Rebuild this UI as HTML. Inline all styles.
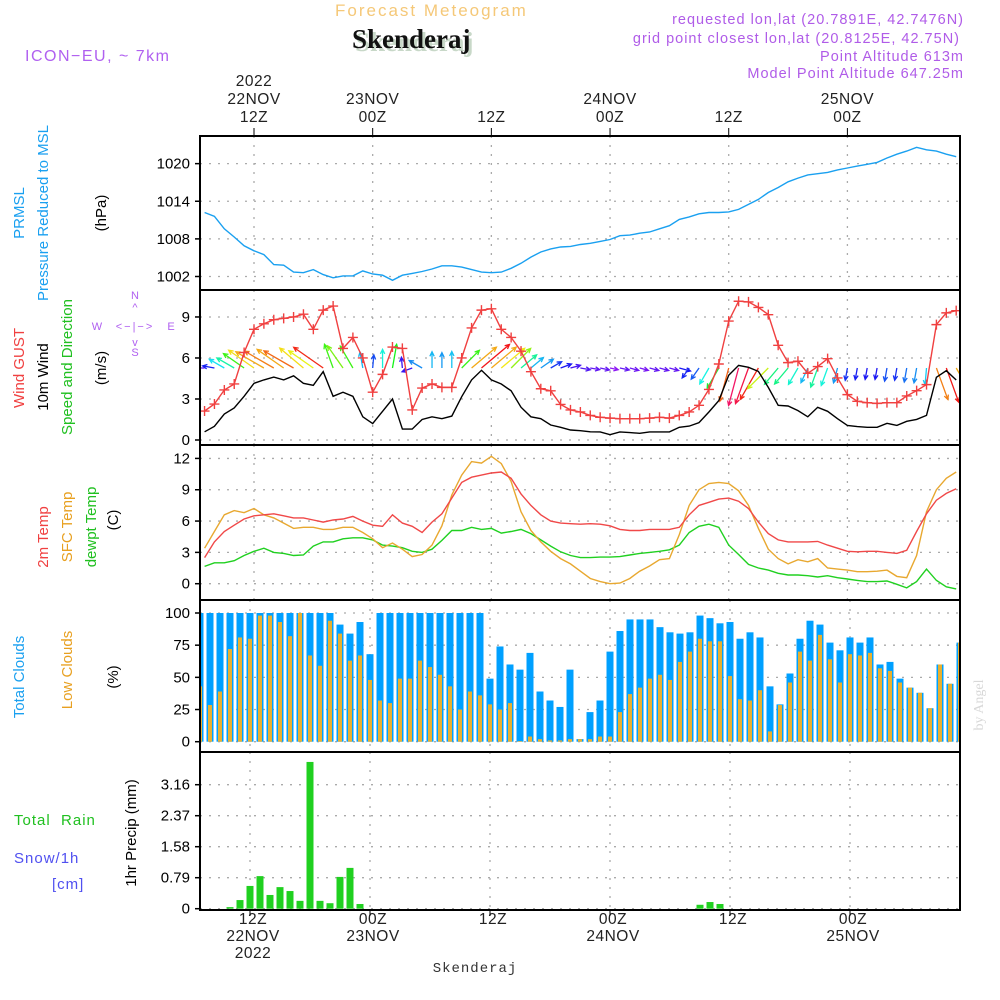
<!DOCTYPE html>
<html><head><meta charset="utf-8"><style>
html,body{margin:0;padding:0;background:#fff;width:1000px;height:1000px;overflow:hidden}
svg{display:block}
</style></head><body>
<svg id="chart" width="1000" height="1000" viewBox="0 0 1000 1000" xmlns="http://www.w3.org/2000/svg" font-family="Liberation Sans, sans-serif">
<g>
<text x="335" y="16" font-size="17" letter-spacing="2" fill="#f5c878">Forecast Meteogram</text>
<text x="355" y="51" style="font-family:'Liberation Serif',serif" font-weight="bold" font-size="27" fill="#c8d8c8">Skenderaj</text>
<text x="352" y="48" style="font-family:'Liberation Serif',serif" font-weight="bold" font-size="27" fill="#111">Skenderaj</text>
<text x="25" y="61" font-size="16" letter-spacing="1.5" fill="#b060f0">ICON−EU, ~ 7km</text>
<g font-size="14.5" letter-spacing="1" fill="#b05ce8" text-anchor="end">
<text x="964" y="24">requested lon,lat (20.7891E, 42.7476N)</text>
<text x="960" y="43">grid point closest lon,lat (20.8125E, 42.75N)</text>
<text x="964" y="61">Point Altitude 613m</text>
<text x="964" y="78">Model Point Altitude 647.25m</text>
</g>
</g>
<g id="plots"></g>
<g font-size="15">
<text transform="translate(24,213) rotate(-90)" text-anchor="middle" fill="#1aa0f0">PRMSL</text>
<text transform="translate(48,213) rotate(-90)" text-anchor="middle" fill="#1aa0f0">Pressure Reduced to MSL</text>
<text transform="translate(106,213) rotate(-90)" text-anchor="middle" fill="#000">(hPa)</text>
<text transform="translate(24,368) rotate(-90)" text-anchor="middle" fill="#f04040">Wind GUST</text>
<text transform="translate(48,377) rotate(-90)" text-anchor="middle" fill="#000">10m Wind</text>
<text transform="translate(72,367) rotate(-90)" text-anchor="middle" fill="#20c020">Speed and Direction</text>
<text transform="translate(106,368) rotate(-90)" text-anchor="middle" fill="#000">(m/s)</text>
<text transform="translate(48,537) rotate(-90)" text-anchor="middle" fill="#f04040">2m Temp</text>
<text transform="translate(72,527) rotate(-90)" text-anchor="middle" fill="#e8a020">SFC Temp</text>
<text transform="translate(96,527) rotate(-90)" text-anchor="middle" fill="#20c020">dewpt Temp</text>
<text transform="translate(118,520) rotate(-90)" text-anchor="middle" fill="#000">(C)</text>
<text transform="translate(24,677) rotate(-90)" text-anchor="middle" fill="#1aa0f0">Total Clouds</text>
<text transform="translate(72,670) rotate(-90)" text-anchor="middle" fill="#e8a020">Low Clouds</text>
<text transform="translate(118,677) rotate(-90)" text-anchor="middle" fill="#000">(%)</text>
<text transform="translate(136,833) rotate(-90)" text-anchor="middle" fill="#000">1hr Precip (mm)</text>
<text x="14" y="825" fill="#20c020" letter-spacing="1" xml:space="preserve">Total  Rain</text>
<text x="14" y="863" fill="#5050f0" letter-spacing="1">Snow/1h</text>
<text x="52" y="889" fill="#5050f0" letter-spacing="1">[cm]</text>
</g>
<g fill="#b060f0" font-size="11">
<text x="135" y="299" text-anchor="middle">N</text>
<text x="135" y="356" text-anchor="middle">S</text>
<text x="97" y="330" text-anchor="middle">W</text>
<text x="171" y="330" text-anchor="middle">E</text>
<text x="135" y="330" text-anchor="middle" letter-spacing="2">&lt;−|−&gt;</text>
<text x="135" y="311" text-anchor="middle">^</text>
<text x="135" y="346" text-anchor="middle">v</text>
</g>
<text x="475" y="972" text-anchor="middle" style="font-family:'Liberation Mono',monospace" font-size="14" letter-spacing="1" fill="#333">Skenderaj</text>
<text transform="translate(983,705) rotate(-90)" text-anchor="middle" style="font-family:'Liberation Serif',serif" font-size="14" fill="#d8d8d8">by Angel</text>
</svg>
<script>
// ---- data (hourly, h = hours since 00Z 22NOV) ----
const hours = [];
for (let h = 7; h <= 83; h++) hours.push(h);
const pressure = [1012.2,1011.6,1009.6,1008.3,1006.9,1006.1,1005.5,1003.9,1003.8,1002.7,
1002.6,1003.1,1002.3,1001.8,1002.1,1002.1,1002.9,1002.4,1002.2,1001.4,
1002.2,1002.5,1002.8,1003.2,1003.7,1003.7,1003.5,1003.1,1002.7,1002.6,
1002.7,1003.3,1004.1,1005.1,1005.9,1006.4,1006.7,1006.8,1007.1,1007.3,
1007.6,1007.9,1008.5,1008.6,1008.9,1009.1,1009.6,1010.1,1011.1,1011.5,
1012.0,1012.2,1012.2,1012.3,1012.7,1013.5,1014.3,1015.4,1016.2,1017.1,
1017.7,1018.2,1018.4,1018.6,1019.0,1019.3,1019.6,1019.9,1020.2,1020.9,
1021.5,1022.0,1022.6,1022.2,1022.0,1021.5,1021.1];
const gust = [2.12,2.63,3.66,4.1,6.4,8.1,8.5,8.8,8.9,9.0,
9.2,8.1,9.5,9.8,6.7,7.5,6.0,3.5,4.8,6.8,
6.7,2.2,3.8,4.1,3.85,3.85,6.0,8.2,9.5,9.6,
8.1,7.5,6.5,5.0,3.75,3.6,2.6,2.2,2.05,1.8,
1.66,1.6,1.56,1.56,1.56,1.6,1.66,1.6,1.8,2.05,
2.54,3.7,5.56,8.7,10.15,10.1,9.7,9.17,6.93,5.66,
5.76,4.88,5.37,5.95,4.54,3.32,2.83,2.73,2.68,2.73,
2.73,3.22,3.61,4.05,8.44,9.3,9.46];
const wind10 = [0.6,1.0,1.9,2.34,3.2,4.15,4.4,4.6,4.4,4.7,
4.15,4.0,5.0,3.2,3.5,3.2,1.7,1.2,2.1,3.0,
0.8,0.8,1.5,1.7,1.56,1.75,3.17,4.4,5.1,4.4,
4.1,3.6,2.4,1.7,1.56,1.1,0.93,0.73,0.68,0.6,
0.59,0.39,0.59,0.54,0.49,0.59,0.59,0.59,0.93,1.02,
1.27,2.05,2.88,4.73,5.46,5.32,5.02,3.85,2.54,2.49,
2.15,1.7,2.39,2.1,1.56,1.07,0.98,0.93,0.93,1.22,
1.07,1.37,1.51,1.8,4.59,5.07,4.39];
const windDir = [180,170,150,150,145,145,150,150,145,150,
140,145,145,110,125,120,100,85,90,80,
95,200,150,90,90,90,45,40,40,40,
40,45,40,40,35,30,20,15,-10,-10,
-12,-12,-12,-15,-15,-15,-15,-15,-15,235,
235,240,240,255,255,250,240,225,230,230,
240,245,250,250,255,260,260,260,260,260,
260,260,260,265,290,290,300];
const temp2m = [2.5,4.0,5.0,5.6,6.2,6.5,6.6,6.7,6.5,6.3,
6.3,6.1,5.9,6.1,6.2,6.45,6.0,5.6,5.5,6.6,
5.8,5.5,4.9,5.9,6.7,8.2,9.7,10.2,10.4,10.6,
10.7,10.1,8.6,7.5,6.6,6.0,5.8,5.75,5.7,5.75,
5.7,5.55,5.2,5.1,5.1,5.2,5.2,5.2,5.4,6.6,
7.5,7.8,8.1,8.2,7.9,7.2,5.9,4.8,4.2,4.0,
4.0,4.0,4.05,3.7,3.4,3.1,3.06,3.1,3.1,3.0,
2.9,3.2,5.0,6.7,8.0,8.65,9.1];
const tempSfc = [3.4,5.0,6.6,7.0,6.8,7.2,6.6,6.3,5.8,5.3,
5.4,5.4,5.2,5.2,5.4,5.4,4.9,4.3,3.45,3.9,
3.3,2.6,2.8,3.7,5.55,8.5,10.4,11.7,11.55,12.2,
11.5,9.8,6.9,5.1,4.0,3.1,2.4,1.9,1.2,0.5,
0.2,0.0,0.06,0.5,1.2,1.7,2.3,2.4,4.7,7.5,
9.0,9.6,9.7,9.6,8.9,7.5,5.3,3.3,2.4,1.9,
2.3,2.1,2.4,1.5,1.4,1.3,1.15,1.15,1.2,1.3,
0.7,0.57,2.7,6.9,9.0,10.1,10.7];
const dewpt = [1.66,2.0,2.0,2.2,2.7,3.1,3.4,3.0,2.9,2.7,
2.75,3.6,4.0,4.0,4.3,4.4,4.4,4.2,3.7,3.6,
3.45,3.1,3.0,3.3,4.15,5.1,5.1,5.4,5.2,5.3,
4.85,5.0,5.2,4.8,4.2,3.6,3.06,2.7,2.5,2.5,
2.55,2.55,2.6,2.75,2.9,3.0,3.1,3.25,3.7,4.9,
5.5,5.7,5.4,3.7,2.8,1.85,1.5,1.3,1.0,0.83,
0.83,0.77,0.64,0.77,0.57,0.45,0.32,0.2,0.2,0.26,
-0.06,-0.4,0.2,1.4,0.32,-0.3,-0.5];
const totalClouds = [100,100,100,100,100,100,100,100,100,100,100,100,100,100,
91,84,93,68,
100,100,100,100,100,100,100,100,100,100,100,
49,74,60,56,69,39,32,27,56,2,
23,32,70,86,95,95,95,89,85,84,
85,98,96,92,93,80,85,81,43,29,
53,80,94,91,77,71,81,77,81,60,
62,49,42,38,26,60,45,77];
const lowClouds = [43,28.5,39,72,81,80,98,98,93,82,100,67,59,94,
84,63,67,48,
32,30,49,49,63,58,52,43,25,39,36,
29,25,30,0.5,4,2,1,1,2,2,
2,4,4,23,37,42,49,52,48,62,
70,80,78,78,51,33,32,40,8,28.5,
46,70,63,83,64,46,68,67,69,57,
55,46,42,38,26,60,45,77];
const precipHours = [10,11,12,13,14,15,16,17,18,19,20,21,22,23,57,58,59];
const precipVals = [0.04,0.22,0.58,0.83,0.35,0.55,0.45,0.2,3.74,0.2,0.14,0.81,1.04,0.12,0.1,0.17,0.12];
const gridHours = [12,24,36,48,60,72];
const topTimeLabels = [["2022","22NOV","12Z"],["","23NOV","00Z"],["","","12Z"],["","24NOV","00Z"],["","","12Z"],["","25NOV","00Z"]];
const bottomTimeLabels = [["12Z","22NOV","2022"],["00Z","23NOV",""],["12Z","",""],["00Z","24NOV",""],["12Z","",""],["00Z","25NOV",""]];
const pTicks = [1002,1008,1014,1020];
const wTicks = [0,3,6,9];
const tTicks = [0,3,6,9,12];
const cTicks = [0,25,50,75,100];
const rTicks = [0,0.79,1.58,2.37,3.16];

// ---- axes ----
const X0 = 200, X1 = 960;
const x = h => 254 + (h - 12) * 9.89;
const xb = h => 250 + (h - 12) * 10;
const yP = v => 276.5 - (v - 1002) * 6.27;
const yW = v => 440 - v * 13.67;
const yT = v => 583.7 - v * 10.44;
const yC = v => 741.7 - v * 1.287;
const yR = v => 908.7 - v * 39.24;
const panels = [
  {name:'pressure-panel', top:136, bot:290, y:yP, ticks:pTicks, fmt:v=>String(v), gx:x},
  {name:'wind-panel', top:290, bot:445, y:yW, ticks:wTicks, fmt:v=>String(v), gx:x},
  {name:'temperature-panel', top:445, bot:600, y:yT, ticks:tTicks, fmt:v=>String(v), gx:x},
  {name:'clouds-panel', top:600, bot:752, y:yC, ticks:cTicks, fmt:v=>String(v), gx:xb},
  {name:'precip-panel', top:752, bot:910, y:yR, ticks:rTicks, fmt:v=>v===0?'0':v.toFixed(2), gx:xb}
];
const NS = 'http://www.w3.org/2000/svg';
const root = document.getElementById('plots');
function mk(tag, attrs, parent) {
  const e = document.createElementNS(NS, tag);
  for (const k in attrs) e.setAttribute(k, attrs[k]);
  (parent || root).appendChild(e);
  return e;
}
const defs = mk('defs', {});
panels.forEach((p, i) => {
  const cp = mk('clipPath', {id:'clip' + i}, defs);
  mk('rect', {x:X0, y:p.top, width:X1 - X0, height:p.bot - p.top}, cp);
});

panels.forEach((p, i) => {
  const g = mk('g', {});
  
  
  p.g = g;
  const grid = mk('g', {stroke:'#aaa', 'stroke-width':1.3, 'stroke-dasharray':'2,7'}, g);
  
  
  p.ticks.forEach(t => {
    const yy = p.y(t);
    mk('line', {x1:X0, x2:X1, y1:yy, y2:yy}, grid);
    mk('line', {x1:X0 - 5, x2:X0, y1:yy, y2:yy, stroke:'#000', 'stroke-width':1.5}, g);
    const lb = mk('text', {x:190, y:yy + 5, 'text-anchor':'end', 'font-size':15, fill:'#000'}, g);
    
    
    lb.textContent = p.fmt(t);
  });
  gridHours.forEach(h => {
    const xx = p.gx(h);
    mk('line', {x1:xx, x2:xx, y1:p.top, y2:p.bot}, grid);
  });
  p.plot = mk('g', {'clip-path':'url(#clip' + i + ')'}, g);
});

function line(panel, arr, color, name) {
  const pts = hours.map((h, i) => x(h).toFixed(1) + ',' + panel.y(arr[i]).toFixed(1)).join(' ');
  const pl = mk('polyline', {points:pts, fill:'none', stroke:color, 'stroke-width':1.4}, panel.plot);
  
  
  return pl;
}
line(panels[0], pressure, '#1aa0f0', 'pressure-line');
const arrows = mk('g', {'stroke-width':1.3, fill:'none'}, panels[1].plot);


hours.forEach((h, i) => {
  const s = wind10[i];
  let hue = 295 - 58 * s; if (hue < -30) hue = -30;
  const col = 'hsl(' + ((hue + 360) % 360) + ',90%,52%)';
  const L = 6 + 6 * s;
  const a = windDir[i] * Math.PI / 180;
  const x0 = x(h), y0 = 368;
  const x1 = x0 + L * Math.cos(a), y1 = y0 - L * Math.sin(a);
  const hl = 5, sp = 0.45;
  const ha1 = a + Math.PI - sp, ha2 = a + Math.PI + sp;
  const d = 'M' + x0 + ' ' + y0 + 'L' + x1 + ' ' + y1 +
    'M' + (x1 + hl * Math.cos(ha1)) + ' ' + (y1 - hl * Math.sin(ha1)) + 'L' + x1 + ' ' + y1 +
    'L' + (x1 + hl * Math.cos(ha2)) + ' ' + (y1 - hl * Math.sin(ha2));
  const ar = mk('path', {d:d, stroke:col}, arrows);
  
  
});
line(panels[1], wind10, '#000', 'wind-speed-line');
line(panels[1], gust, '#f04040', 'gust-line');
const gm = mk('g', {stroke:'#f04040', 'stroke-width':1.4}, panels[1].plot);


hours.forEach((h, i) => {
  const xx = x(h), yy = yW(gust[i]);
  const m = mk('path', {d:'M' + (xx - 5) + ' ' + yy + 'h10M' + xx + ' ' + (yy - 5) + 'v10'}, gm);
  
  
});
line(panels[2], dewpt, '#20d020', 'dewpoint-line');
line(panels[2], tempSfc, '#e8a830', 'sfc-temp-line');
line(panels[2], temp2m, '#f04848', 'temp-2m-line');
hours.forEach((h, i) => {
  const xx = xb(h);
  const b = mk('rect', {x:xx - 3.5, y:yC(totalClouds[i]), width:7, height:yC(0) - yC(totalClouds[i]), fill:'#00a0ff'}, panels[3].plot);
  
  
  const o = mk('rect', {x:xx - 2, y:yC(lowClouds[i]), width:4, height:yC(0) - yC(lowClouds[i]), fill:'#e8b030'}, panels[3].plot);
  
  
});
precipHours.forEach((h, i) => {
  const xx = xb(h);
  const b = mk('rect', {x:xx - 3.5, y:yR(precipVals[i]), width:7, height:yR(0) - yR(precipVals[i]), fill:'#20d020'}, panels[4].plot);
  
  
});
panels.forEach(p => {
  const f = mk('rect', {x:X0, y:p.top, width:X1 - X0, height:p.bot - p.top, fill:'none', stroke:'#000', 'stroke-width':2}, p.g);
  
  
});
gridHours.forEach((h, i) => {
  const xx = x(h);
  const tl = topTimeLabels[i];
  [86, 104, 122].forEach((yy, j) => {
    if (!tl[j]) return;
    const t = mk('text', {x:xx, y:yy, 'text-anchor':'middle', 'font-size':15.5, fill:'#222', 'letter-spacing':0.5});
    
    
    t.textContent = tl[j];
  });
  mk('line', {x1:xx, x2:xx, y1:128, y2:136, stroke:'#000', 'stroke-width':1});
  const xb2 = xb(h) + 3;
  const bl = bottomTimeLabels[i];
  [924, 941, 958].forEach((yy, j) => {
    if (!bl[j]) return;
    const t = mk('text', {x:xb2, y:yy, 'text-anchor':'middle', 'font-size':15.5, fill:'#222', 'letter-spacing':0.5});
    
    
    t.textContent = bl[j];
  });
  mk('line', {x1:xb(h), x2:xb(h), y1:910, y2:916, stroke:'#000', 'stroke-width':1});
});
</script>
</body></html>
